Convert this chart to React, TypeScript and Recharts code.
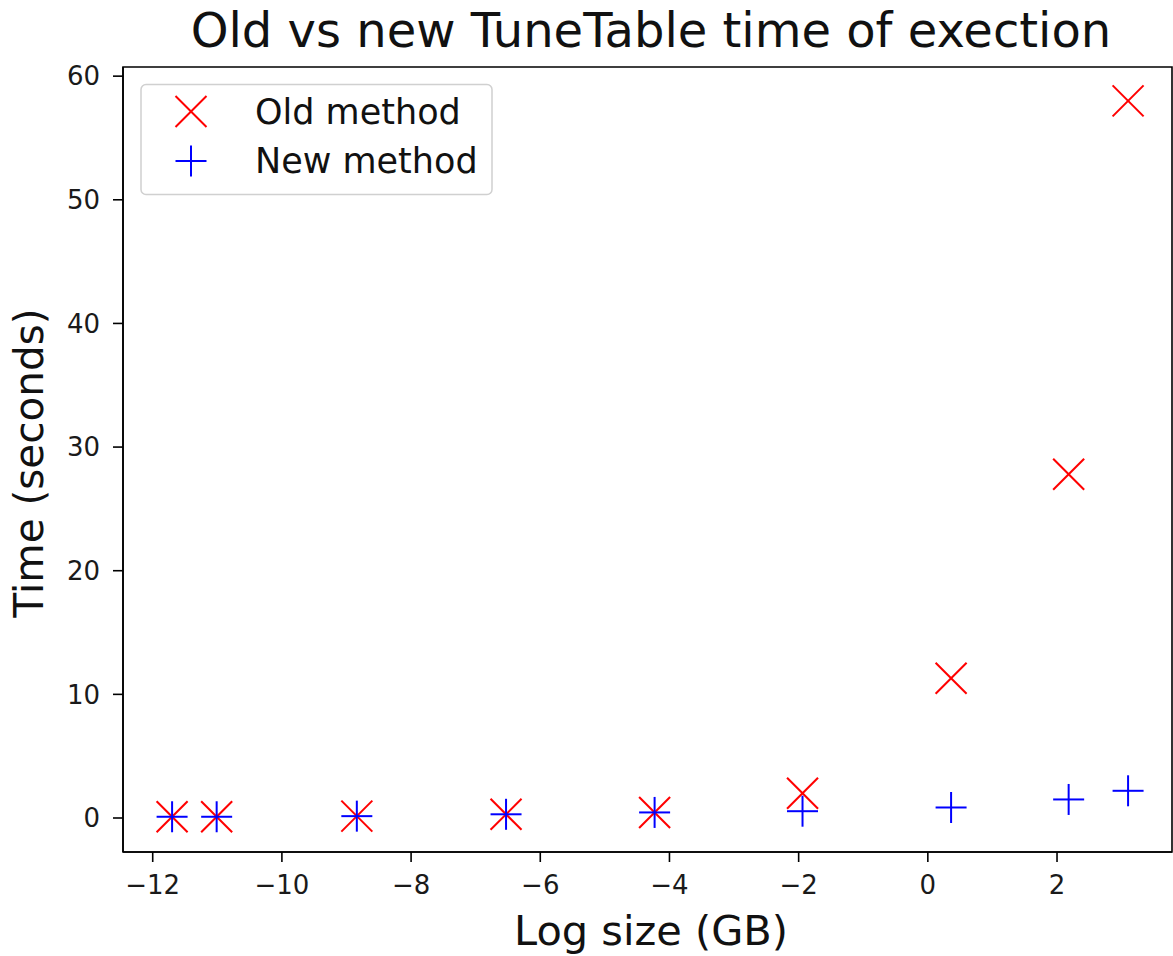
import React from 'react'
import { ReferenceArea, Scatter, ScatterChart, XAxis, YAxis } from 'recharts'

// log of table size (GB) for each run
const logSizes = [-11.7, -11.01, -8.84, -6.53, -4.23, -1.94, 0.36, 2.18, 3.1]
// seconds taken by each method
const oldTimes = [0.1, 0.1, 0.15, 0.3, 0.45, 2.0, 11.3, 27.8, 58.0]
const newTimes = [0.1, 0.1, 0.15, 0.3, 0.45, 0.55, 0.85, 1.5, 2.2]

const xTicks = [-12, -10, -8, -6, -4, -2, 0, 2]
const yTicks = [0, 10, 20, 30, 40, 50, 60]
const xDomain: [number, number] = [-12.46, 3.78]
const yDomain: [number, number] = [-2.75, 60.74]

const FONT = '"DejaVu Sans", sans-serif'
const RED = '#ff0000'
const BLUE = '#0000ff'
const HALF = 15.5

const oldData = logSizes.map((x, i) => ({ x, y: oldTimes[i] }))
const newData = logSizes.map((x, i) => ({ x, y: newTimes[i] }))

function minusFmt(v: number): string {
  return v < 0 ? `\u2212${Math.abs(v)}` : `${v}`
}

function CrossX({ cx, cy, color }: { cx: number; cy: number; color: string }) {
  return (
    <g stroke={color} strokeWidth={2}>
      <line x1={cx - HALF} y1={cy - HALF} x2={cx + HALF} y2={cy + HALF} />
      <line x1={cx - HALF} y1={cy + HALF} x2={cx + HALF} y2={cy - HALF} />
    </g>
  )
}

function Plus({ cx, cy, color }: { cx: number; cy: number; color: string }) {
  return (
    <g stroke={color} strokeWidth={2}>
      <line x1={cx - HALF} y1={cy} x2={cx + HALF} y2={cy} />
      <line x1={cx} y1={cy - HALF} x2={cx} y2={cy + HALF} />
    </g>
  )
}

const tickStyle = { fontSize: 26, fontFamily: FONT, fill: '#1a1a1a' }

export default function App() {
  return (
    <div style={{ position: 'absolute', left: 0, top: 0, width: 1173, height: 956, background: '#fff' }}>
      <ScatterChart width={1173} height={956} margin={{ top: 67, right: 1, bottom: 44, left: 0 }}>
        <XAxis
          type="number"
          dataKey="x"
          domain={xDomain}
          ticks={xTicks}
          allowDataOverflow
          tickFormatter={minusFmt}
          height={60}
          tickSize={10}
          tickMargin={14}
          stroke="#000"
          axisLine={{ stroke: '#000', strokeWidth: 1.6 }}
          tickLine={{ stroke: '#000', strokeWidth: 1.6 }}
          tick={tickStyle}
        />
        <YAxis
          type="number"
          dataKey="y"
          domain={yDomain}
          ticks={yTicks}
          allowDataOverflow
          width={123}
          tickSize={10}
          tickMargin={13}
          stroke="#000"
          axisLine={{ stroke: '#000', strokeWidth: 1.6 }}
          tickLine={{ stroke: '#000', strokeWidth: 1.6 }}
          tick={tickStyle}
        />
        <ReferenceArea
          x1={xDomain[0]}
          x2={xDomain[1]}
          y1={yDomain[0]}
          y2={yDomain[1]}
          fill="none"
          stroke="#000"
          strokeWidth={1.6}
        />
        <Scatter
          name="Old method"
          data={oldData}
          isAnimationActive={false}
          shape={(p: any) => <CrossX cx={p.cx} cy={p.cy} color={RED} />}
        />
        <Scatter
          name="New method"
          data={newData}
          isAnimationActive={false}
          shape={(p: any) => <Plus cx={p.cx} cy={p.cy} color={BLUE} />}
        />
      </ScatterChart>

      <svg
        width={1173}
        height={956}
        style={{ position: 'absolute', left: 0, top: 0, pointerEvents: 'none' }}
        fontFamily={FONT}
      >
        <text x={651} y={47} textAnchor="middle" fontSize={48} fill="#111">
          Old vs new TuneTable time of exection
        </text>
        <text x={651} y={945} textAnchor="middle" fontSize={41.5} fill="#111">
          Log size (GB)
        </text>
        <text
          transform="translate(43, 463) rotate(-90)"
          textAnchor="middle"
          fontSize={40.5}
          fill="#111"
        >
          Time (seconds)
        </text>

        <rect x={141} y={84.5} width={351} height={110} rx={5} fill="#fff" fillOpacity={0.8} stroke="#d0d0d0" strokeWidth={1.5} />
        <CrossX cx={191} cy={111.5} color={RED} />
        <text x={255} y={123.5} fontSize={35} fill="#111">Old method</text>
        <Plus cx={191} cy={161} color={BLUE} />
        <text x={255} y={172.5} fontSize={35} fill="#111">New method</text>
      </svg>
    </div>
  )
}
